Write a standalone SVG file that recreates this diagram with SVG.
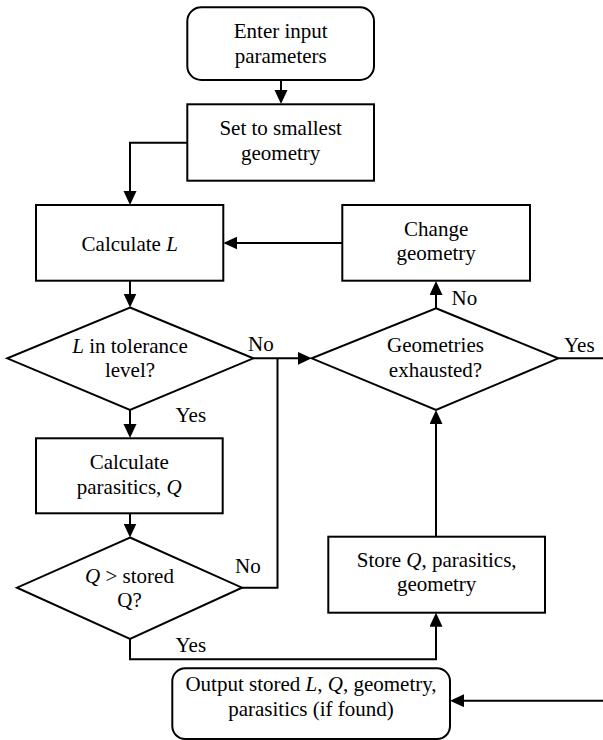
<svg xmlns="http://www.w3.org/2000/svg" width="603" height="740" viewBox="0 0 603 740">
<style>
.box{fill:#fff;stroke:#000;stroke-width:2}
.ln{fill:none;stroke:#000;stroke-width:2}
.arr{marker-end:url(#ah)}
text{font-family:"Liberation Serif","Times New Roman",serif;font-size:21px;fill:#000}
.c{text-anchor:middle}
.i{font-style:italic}
</style>
<defs>
<marker id="ah" markerUnits="userSpaceOnUse" markerWidth="14" markerHeight="14" refX="11" refY="6.5" orient="auto">
<path d="M0,0 L14,6.5 L0,13 Z" fill="#000"/>
</marker>
</defs>
<rect width="603" height="740" fill="#fff"/>
<g id="connectors">
<path class="ln arr" d="M281,80 V101"/>
<path class="ln arr" d="M187,142.7 H130 V202"/>
<path class="ln arr" d="M130,281 V304.5"/>
<path class="ln arr" d="M130,410 V435"/>
<path class="ln arr" d="M130,513.5 V534.5"/>
<path class="ln arr" d="M253.3,358.3 H308.7"/>
<path class="ln" d="M241.7,587.7 H277.5 V358.3"/>
<path class="ln arr" d="M130,639 V659.3 H436 V615.7"/>
<path class="ln arr" d="M436,536.7 V413"/>
<path class="ln arr" d="M436,308.3 V284"/>
<path class="ln arr" d="M342.3,243 H226.3"/>
<path class="ln" d="M558.3,358.3 H603"/>
<path class="ln arr" d="M603,700.7 H453"/>
<text x="248" y="350.7">No</text>
<text x="451.5" y="305">No</text>
<text x="564" y="351.7">Yes</text>
<text x="175.5" y="422.3">Yes</text>
<text x="235" y="573.3">No</text>
<text x="175.5" y="652.3">Yes</text>
</g>
<g id="enter">
<rect class="box" x="187.3" y="7.3" width="186.7" height="72.7" rx="14"/>
<text class="c" x="280.7" y="38.3">Enter input</text>
<text class="c" x="280.7" y="63.3">parameters</text>
</g>
<g id="set">
<rect class="box" x="187.3" y="104.3" width="186.7" height="76.4"/>
<text class="c" x="280.7" y="135">Set to smallest</text>
<text class="c" x="280.7" y="159.5">geometry</text>
</g>
<g id="calcL">
<rect class="box" x="36" y="205" width="187.3" height="75.7"/>
<text class="c" x="129.7" y="251">Calculate <tspan class="i">L</tspan></text>
</g>
<g id="change">
<rect class="box" x="342.3" y="205" width="187.7" height="75.7"/>
<text class="c" x="436.2" y="235.7">Change</text>
<text class="c" x="436.2" y="260">geometry</text>
</g>
<g id="tolerance">
<polygon class="box" points="130,307.5 253.3,358.3 130,410 7.3,358.3"/>
<text class="c" x="130" y="352.7"><tspan class="i">L</tspan> in tolerance</text>
<text class="c" x="130" y="376.7">level?</text>
</g>
<g id="exhausted">
<polygon class="box" points="436,308.3 558.3,358.3 436,410 311.7,358.3"/>
<text class="c" x="435.5" y="351.7">Geometries</text>
<text class="c" x="435.5" y="376.7">exhausted?</text>
</g>
<g id="calcQ">
<rect class="box" x="36" y="438.3" width="186.7" height="75"/>
<text class="c" x="129.3" y="469">Calculate</text>
<text class="c" x="129.3" y="494">parasitics, <tspan class="i">Q</tspan></text>
</g>
<g id="compare">
<polygon class="box" points="130,537.5 242,587.7 130,639 17,587.7"/>
<text class="c" x="129.5" y="582.7"><tspan class="i">Q</tspan> &gt; stored</text>
<text class="c" x="129.5" y="606.7">Q?</text>
</g>
<g id="store">
<rect class="box" x="328.3" y="536.7" width="216.7" height="76"/>
<text class="c" x="436.7" y="566.7">Store <tspan class="i">Q</tspan>, parasitics,</text>
<text class="c" x="436.7" y="590.7">geometry</text>
</g>
<g id="output">
<rect class="box" x="172.3" y="668.3" width="277.7" height="70.7" rx="13"/>
<text class="c" x="311" y="690.7">Output stored <tspan class="i">L</tspan>, <tspan class="i">Q</tspan>, geometry,</text>
<text class="c" x="311" y="716">parasitics (if found)</text>
</g>
</svg>
